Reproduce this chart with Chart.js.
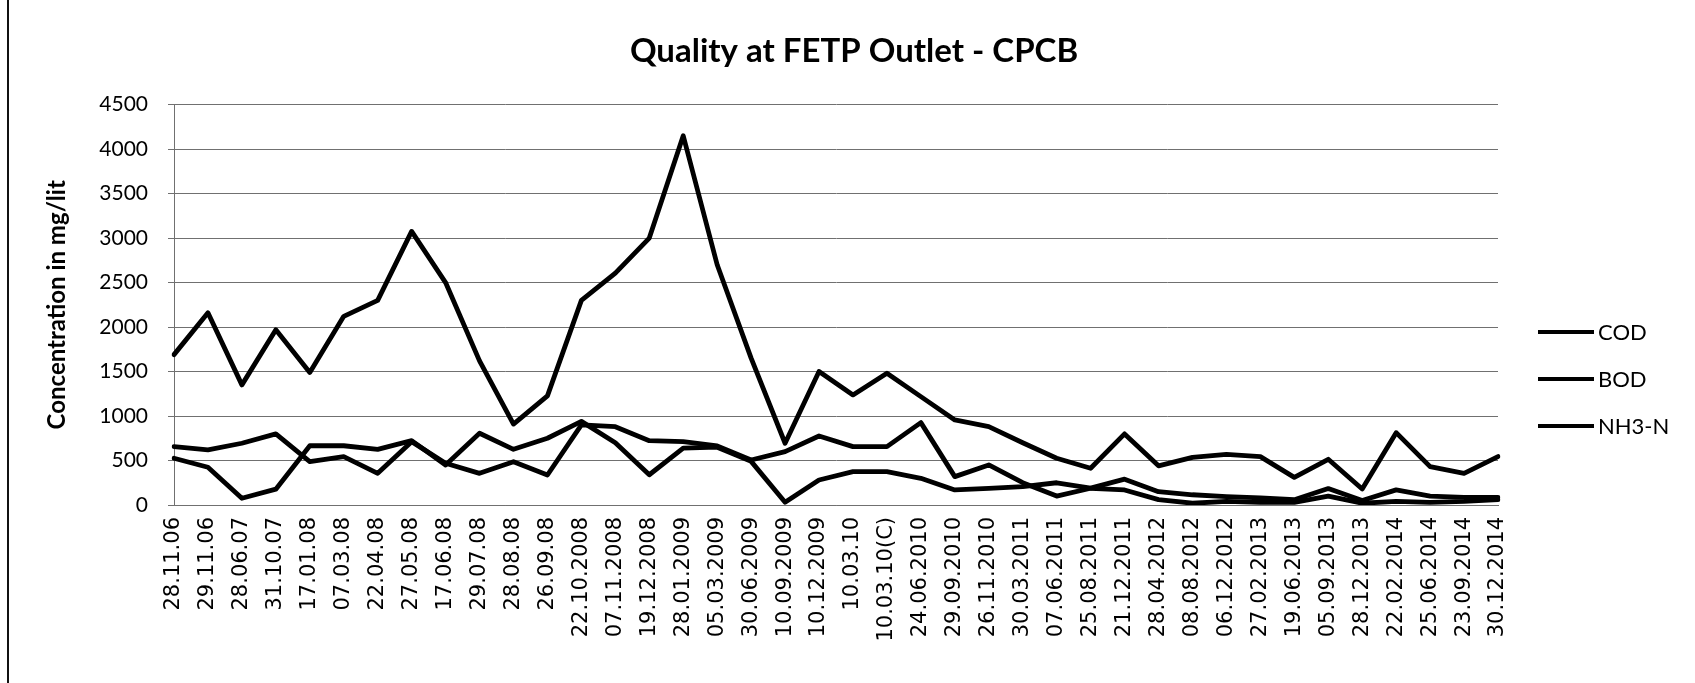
<!DOCTYPE html>
<html lang="en">
<head>
    <meta charset="UTF-8">
    <title>Quality at FETP Outlet - CPCB</title>
    <script src="https://cdn.jsdelivr.net/npm/chart.js"></script>
    <style>
        html, body { margin: 0; padding: 0; background: #fff; }
        #wrap { position: relative; width: 1695px; height: 683px; overflow: hidden; }
        #edge { position: absolute; left: 7px; top: 0; width: 2px; height: 683px; background: #111; }
        #legend { position: absolute; left: 1538px; top: 308px; font-family: Lato, sans-serif; font-size: 22px; color: #000; }
        .item { display: flex; align-items: center; height: 47px; }
        .swatch { width: 56px; height: 4px; background: #000; margin-right: 4px; }
    </style>
</head>
<body>
<div id="wrap">
    <canvas id="chart" width="1695" height="683"></canvas>
    <div id="edge"></div>
    <div id="legend"></div>
</div>
<script>
    // sampling dates (category axis)
    const dates = ['28.11.06', '29.11.06', '28.06.07', '31.10.07', '17.01.08', '07.03.08', '22.04.08', '27.05.08',
        '17.06.08', '29.07.08', '28.08.08', '26.09.08', '22.10.2008', '07.11.2008', '19.12.2008', '28.01.2009',
        '05.03.2009', '30.06.2009', '10.09.2009', '10.12.2009', '10.03.10', '10.03.10(C)', '24.06.2010', '29.09.2010',
        '26.11.2010', '30.03.2011', '07.06.2011', '25.08.2011', '21.12.2011', '28.04.2012', '08.08.2012', '06.12.2012',
        '27.02.2013', '19.06.2013', '05.09.2013', '28.12.2013', '22.02.2014', '25.06.2014', '23.09.2014', '30.12.2014'];

    // concentrations in mg/lit
    const cod = [1690, 2160, 1350, 1970, 1490, 2120, 2300, 3075, 2500, 1620,
        910, 1226, 2300, 2606, 3000, 4150, 2700, 1650, 694, 1500,
        1237, 1481, 1218, 956, 881, 700, 525, 413, 799, 440,
        536, 570, 544, 310, 514, 180, 813, 431, 356, 544];
    const bod = [656, 619, 694, 799, 487, 544, 356, 712, 469, 356,
        487, 337, 900, 880, 723, 712, 664, 506, 600, 776,
        656, 656, 926, 319, 450, 251, 100, 188, 169, 60,
        20, 40, 30, 30, 100, 20, 40, 30, 40, 60];
    const nh3n = [525, 424, 76, 178, 666, 666, 626, 723, 450, 806,
        626, 750, 940, 700, 340, 640, 650, 490, 30, 281,
        375, 375, 300, 169, 188, 206, 250, 190, 290, 150,
        115, 95, 80, 60, 185, 50, 170, 100, 85, 85];

    const seriesNames = ['COD', 'BOD', 'NH3-N'];
    const yTicks = { min: 0, max: 4500, step: 500 };

    const gridGrey = '#707070';

    function lineSet(label, data) {
        return {
            label: label,
            data: data,
            borderColor: '#000',
            backgroundColor: '#000',
            borderWidth: 4.8,
            pointRadius: 0,
            tension: 0,
            borderJoinStyle: 'round',
            borderCapStyle: 'round',
            fill: false
        };
    }

    const chart = new Chart(document.getElementById('chart').getContext('2d'), {
        type: 'line',
        data: {
            labels: dates,
            datasets: [lineSet(seriesNames[0], cod), lineSet(seriesNames[1], bod), lineSet(seriesNames[2], nh3n)]
        },
        options: {
            responsive: false,
            animation: false,
            devicePixelRatio: 1,
            layout: { padding: { left: 13, right: 0, top: 0, bottom: 0 } },
            plugins: {
                legend: { display: false },
                tooltip: { enabled: false },
                title: {
                    display: true,
                    text: 'Quality at FETP Outlet - CPCB',
                    color: '#000',
                    font: { family: 'Lato', size: 33, weight: 'bold' },
                    padding: { top: 32, bottom: 33 }
                }
            },
            scales: {
                x: {
                    grid: { display: false, drawTicks: false },
                    border: { display: true, color: gridGrey, width: 1 },
                    ticks: {
                        autoSkip: false,
                        minRotation: 90,
                        maxRotation: 90,
                        padding: 12,
                        color: '#000',
                        font: { family: 'DejaVu Sans', size: 21 }
                    },
                    afterFit: s => { s.height = 178; }
                },
                y: {
                    min: yTicks.min,
                    max: yTicks.max,
                    ticks: {
                        stepSize: yTicks.step,
                        padding: 20,
                        color: '#000',
                        font: { family: 'Lato', size: 21 },
                        callback: v => String(v)
                    },
                    grid: { color: gridGrey, lineWidth: 1, tickLength: 6 },
                    border: { display: true, color: gridGrey, width: 1 },
                    title: {
                        display: true,
                        text: 'Concentration in mg/lit',
                        color: '#000',
                        font: { family: 'Lato', size: 24, weight: 'bold' },
                        padding: { top: 30, bottom: 0 }
                    },
                    afterFit: s => { s.width = 161; }
                },
                // empty room on the right for the legend
                spacer: {
                    type: 'linear',
                    position: 'right',
                    display: true,
                    grid: { display: false, drawTicks: false },
                    border: { display: false },
                    ticks: { display: false },
                    afterFit: s => { s.width = 197; }
                }
            }
        }
    });

    // legend on the right, built from the datasets
    const legend = document.getElementById('legend');
    chart.data.datasets.forEach(ds => {
        const row = document.createElement('div');
        row.className = 'item';
        row.innerHTML = '<span class="swatch"></span><span>' + ds.label + '</span>';
        legend.appendChild(row);
    });
</script>
</body>
</html>
